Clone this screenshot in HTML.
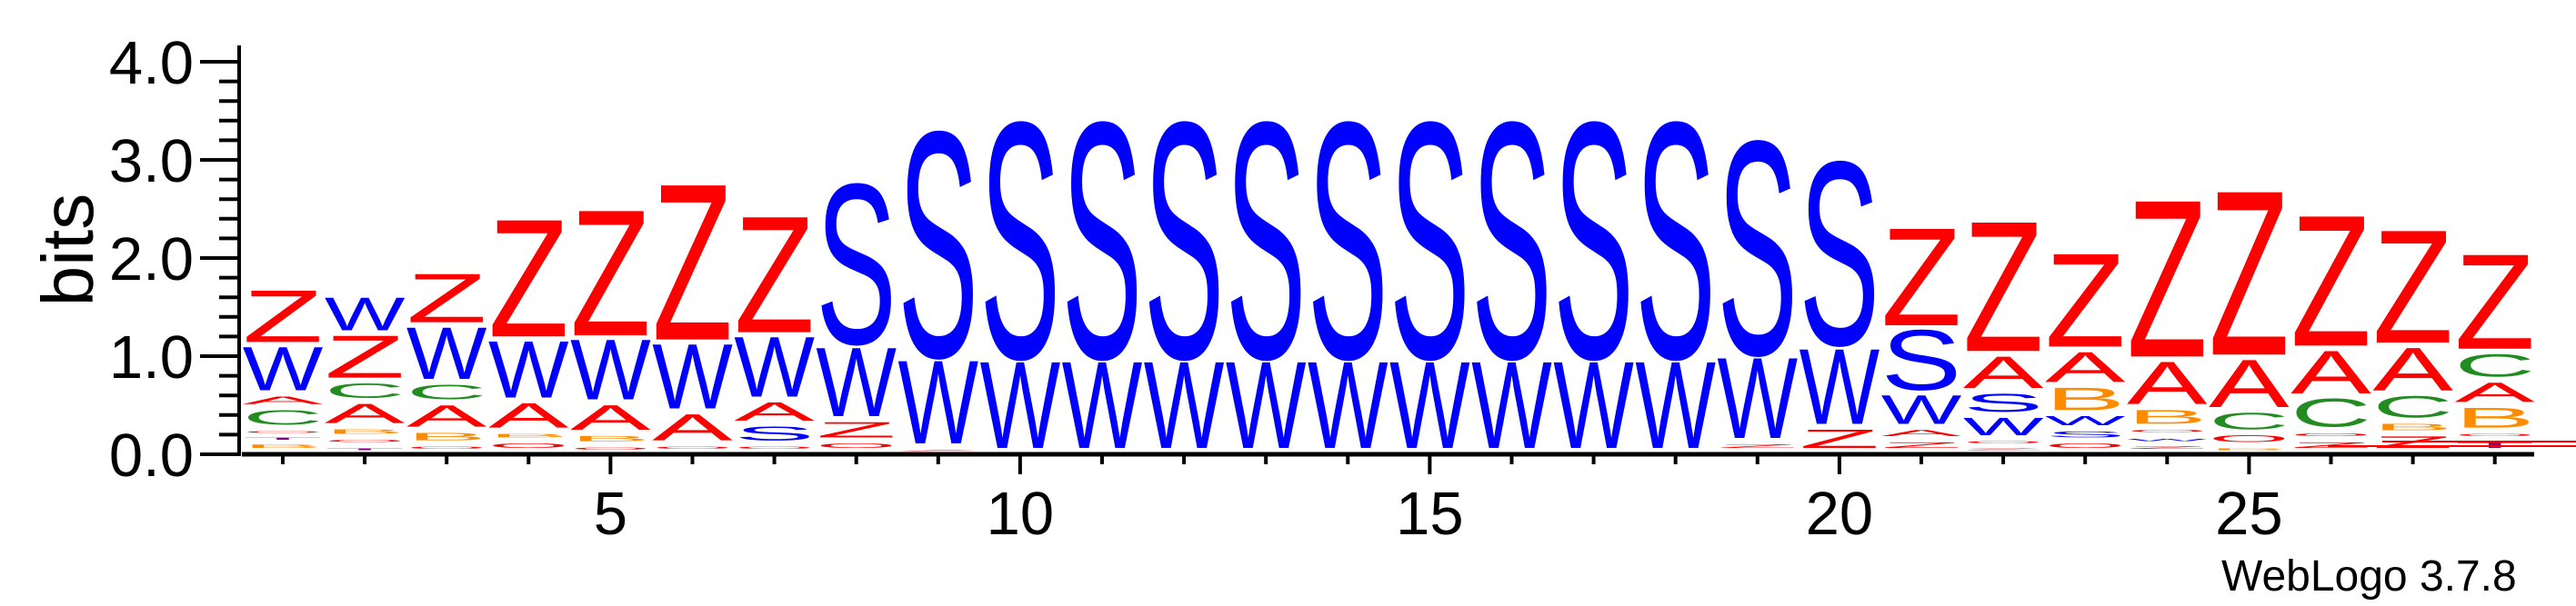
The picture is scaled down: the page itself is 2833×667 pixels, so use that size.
<!DOCTYPE html>
<html><head><meta charset="utf-8"><style>
html,body{margin:0;padding:0;background:#fff;}
svg{display:block;}
</style></head><body>
<svg id="logo" xmlns="http://www.w3.org/2000/svg" width="2833" height="667" viewBox="0 0 2833 667" font-family="'Liberation Sans', Arial, sans-serif">
<rect width="2833" height="667" fill="#fff"/>
<g id="axes"></g>
<g id="stacks"></g>
<text transform="translate(102,275) rotate(-90)" text-anchor="middle" font-size="80">bits</text>
<text x="2443" y="650" font-size="48">WebLogo 3.7.8</text>
<line x1="2620" y1="486" x2="2833" y2="486" stroke="#f00" stroke-width="2"/>
<line x1="2560" y1="491" x2="2833" y2="491" stroke="#f00" stroke-width="2"/>
</svg>
<script>
const yTicks = [0, 1, 2, 3, 4];
const yTickLabels = ["0.0", "1.0", "2.0", "3.0", "4.0"];
const xTickLabels = [5, 10, 15, 20, 25];
const positions = [1,2,3,4,5,6,7,8,9,10,11,12,13,14,15,16,17,18,19,20,21,22,23,24,25,26,27,28];
const columnLetters = [
 "BTOCAWZ","TOBACZW","OBACWZ","OBAWZ","OBAWZ","OAWZ","OSAWZ","OZWS","ZWS",
 "WS","WS","WS","WS","WS","WS","WS","WS","WS",
 "ZWS","ZWS","ZAWSZ","ZOWSAZ","OSWBAZ","ZWOBAZ","BOCAZ","ZOCAZ","ZBCAZ","TOBACZ"
];
const columnHeights = [
 [.099,.071,.065,.212,.139,.494,.577],
 [.06,.085,.108,.256,.207,.482,.392],
 [.077,.139,.278,.21,.577,.546],
 [.108,.099,.308,.621,1.225],
 [.068,.117,.309,.654,1.306],
 [.077,.324,.704,1.605],
 [.077,.201,.247,.654,1.213],
 [.108,.216,.741,1.645],
 [.046,.886,2.29],
 [.92,2.395],[.92,2.395],[.92,2.395],[.92,2.395],[.92,2.395],[.92,2.395],[.92,2.395],[.92,2.395],[.92,2.395],
 [.1,.857,2.173],
 [.247,.808,1.875],
 [.12,.127,.346,.657,1.028],
 [.06,.07,.24,.241,.377,1.348],
 [.108,.123,.155,.287,.361,.986],
 [.08,.08,.087,.201,.484,1.614],
 [.06,.131,.226,.534,1.688],
 [.12,.096,.34,.487,1.355],
 [.18,.129,.277,.488,1.179],
 [.12,.087,.262,.256,.287,1.0]
];
const letterColors = {A:"#ff0000",Z:"#ff0000",O:"#ff0000",W:"#0000ff",S:"#0000ff",C:"#228b22",B:"#ff8c00",T:"#800080"};

const NS = "http://www.w3.org/2000/svg";
const Y0 = 500, PX_PER_BIT = 108, X1 = 311, COL_W = 90.1, GLYPH_W = 82;
function yScale(b){ return Y0 - b * PX_PER_BIT; }
function xScale(p){ return X1 + (p - 1) * COL_W; }
function mk(tag, attrs, parent){ const e = document.createElementNS(NS, tag); for (const k in attrs) e.setAttribute(k, attrs[k]); parent.appendChild(e); return e; }

const axes = document.getElementById("axes");
let yl = mk("line", {x1:263, y1:50, x2:263, y2:502, stroke:"#000", "stroke-width":4}, axes);


for (let v = 0; v <= 4.0001; v += 0.2) {
  const major = Math.abs(v - Math.round(v)) < 1e-6;
  const t = mk("line", {x1: major ? 220 : 241, y1: yScale(v), x2: 263, y2: yScale(v), stroke:"#000", "stroke-width":4}, axes);
  
  
}
yTicks.forEach((v, i) => {
  const t = mk("text", {x:213, y:yScale(v) + 24, "text-anchor":"end", "font-size":67}, axes);
  t.textContent = yTickLabels[i];
  
  
});
let xl = mk("line", {x1:266, y1:500, x2:2787, y2:500, stroke:"#000", "stroke-width":5}, axes);


positions.forEach(p => {
  const major = xTickLabels.indexOf(p) >= 0;
  const t = mk("line", {x1:xScale(p), y1:500, x2:xScale(p), y2: major ? 522 : 511, stroke:"#000", "stroke-width":4}, axes);
  
  
});
xTickLabels.forEach(p => {
  const t = mk("text", {x:xScale(p), y:588, "text-anchor":"middle", "font-size":67}, axes);
  t.textContent = String(p);
  
  
});

const stacks = document.getElementById("stacks");
const CAP = 0.675;
positions.forEach((p, ci) => {
  const g = mk("g", {}, stacks);
  
  
  let base = 0;
  const letters = columnLetters[ci], hs = columnHeights[ci];
  for (let k = 0; k < letters.length; k++) {
    const ch = letters[k], h = hs[k];
    const top = yScale(base + h);
    const bot = yScale(base);
    let gh = (bot - top) - 7;
    if (gh < 2) gh = Math.max(1.5, (bot - top) * 0.3);
    const sy = gh / (CAP * 100);
    const cx = xScale(p);
    const t = mk("text", {x:0, y:0, "font-size":100, fill:letterColors[ch] || "#000",
      textLength: GLYPH_W * 1.08, lengthAdjust:"spacingAndGlyphs",
      transform:"translate(" + (cx - GLYPH_W * 0.54) + "," + (top + gh) + ") scale(1," + sy + ")"}, g);
    t.textContent = ch;
    
    
    base += h;
  }
});
</script>
</body></html>
